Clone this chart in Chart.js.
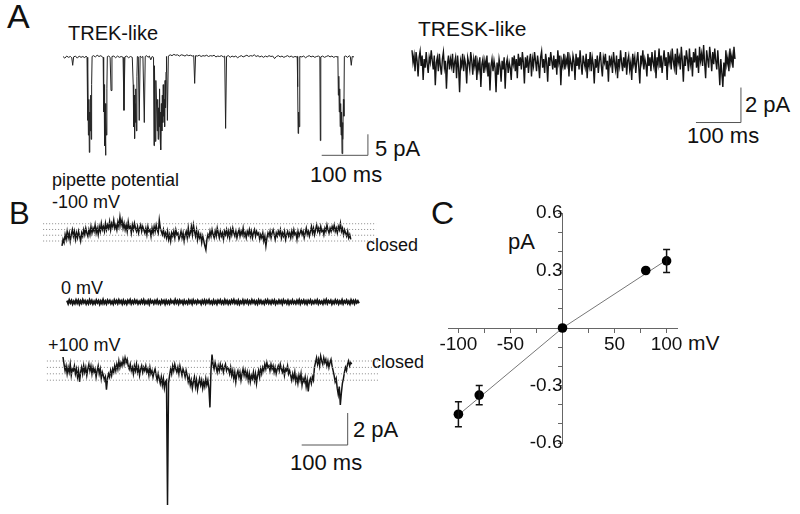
<!DOCTYPE html>
<html>
<head>
<meta charset="utf-8">
<script src="https://cdn.jsdelivr.net/npm/chart.js@4.4.1/dist/chart.umd.min.js"></script>
<style>
  html, body { margin: 0; padding: 0; background: #fff; }
  #page { position: relative; width: 800px; height: 514px; overflow: hidden; font-family: "Liberation Sans", Arial, sans-serif; color: #111; }
  #page canvas { position: absolute; }
  .lbl { position: absolute; white-space: nowrap; line-height: 1; }
</style>
</head>
<body>
<div id="page">
  <div class="lbl" style="left:7px;top:-1px;font-size:34px;">A</div>
  <div class="lbl" style="left:68px;top:23px;font-size:20px;">TREK-like</div>
  <div class="lbl" style="left:418px;top:18px;font-size:21px;">TRESK-like</div>
  <div class="lbl" style="left:375px;top:138px;font-size:22px;">5 pA</div>
  <div class="lbl" style="left:310px;top:164px;font-size:22px;">100 ms</div>
  <div class="lbl" style="left:745px;top:94px;font-size:22px;">2 pA</div>
  <div class="lbl" style="left:687px;top:125px;font-size:22px;">100 ms</div>

  <div class="lbl" style="left:9px;top:198px;font-size:31px;">B</div>
  <div class="lbl" style="left:52px;top:171px;font-size:18px;">pipette potential</div>
  <div class="lbl" style="left:52px;top:193px;font-size:18px;">-100 mV</div>
  <div class="lbl" style="left:366px;top:236px;font-size:18px;">closed</div>
  <div class="lbl" style="left:61px;top:279px;font-size:18px;">0 mV</div>
  <div class="lbl" style="left:48px;top:336px;font-size:18px;">+100 mV</div>
  <div class="lbl" style="left:372px;top:353px;font-size:18px;">closed</div>
  <div class="lbl" style="left:353px;top:419px;font-size:22px;">2 pA</div>
  <div class="lbl" style="left:290px;top:452px;font-size:22px;">100 ms</div>

  <div class="lbl" style="left:431px;top:197px;font-size:32px;">C</div>
  <div class="lbl" style="left:508px;top:231px;font-size:22px;">pA</div>
  <div class="lbl" style="left:688px;top:332px;font-size:21px;">mV</div>

  <canvas id="trek" width="330" height="125" style="left:55px;top:40px;"></canvas>
  <canvas id="tresk" width="390" height="100" style="left:400px;top:35px;"></canvas>
  <canvas id="bMinus" width="350" height="60" style="left:40px;top:200px;"></canvas>
  <canvas id="bZero" width="350" height="25" style="left:40px;top:290px;"></canvas>
  <canvas id="bPlus" width="350" height="170" style="left:40px;top:340px;"></canvas>
  <canvas id="iv" width="380" height="300" style="left:420px;top:180px;"></canvas>
</div>
<script>
// ---- A: TREK-like, [ms, pA] (openings go downward)
const trekTrace = [
  [0,0.2],[4,-0.2],[8,0.3],[12,0],[16,0.2],[19,-0.1],[21,-1.9],[23,0.1],[27,0.3],[31,-0.2],[35,0.3],[39,0],[43,0.2],[47,-0.1],[50,0.3],
  [52,0],[53,-15],[54,-3],[55,-18.5],[56,-10],[57,-22.6],[58,-13],[59,-17.5],[60,-9],[61,-19.5],[62,-6.5],[63,0.2],
  [66,0.4],[70,0.1],[74,0.5],[78,0.2],[82,0.4],[85,0.1],
  [87,0],[88,-13],[89,-6.5],[90,-21],[91,-11],[92,-23.3],[93,-14],[94,-18.5],[95,-7.5],[96,0.2],
  [99,0.3],[102,0],[104,-7.9],[106,0.2],[110,0.3],[114,-0.1],[118,0.3],[122,0],[126,0.2],[130,0],[132,-12.6],[134,0.1],[138,0.3],[142,-0.1],[146,0.2],[150,0],
  [152,-6.5],[153,-16.5],[154,-9],[155,-19.3],[156,-11],[157,-15.5],[158,-7.5],[159,-17.5],[160,-4.5],[161,0.2],[163,0.1],[165,-15],[167,0.3],[170,0],[173,0.2],[176,-15.5],[178,0.2],[181,0.4],[184,0],[187,0.3],[190,-0.6],[193,0.2],
  [196,0],[197,-21],[198,-2],[200,-20],[201,-5.5],[203,-13],[204,-17.5],[205,-10],[206,-19.5],[207,-12],[208,-16.5],[209,-7.5],[210,-18.5],[211,-13],[212,-22],[213,-11],[214,-17.5],[215,-9],[216,-15.5],[217,-6.5],[218,-14],[219,-10],[220,-16.5],[221,-5.5],[222,-12],[223,-3.5],[224,0.2],[226,-15],[228,0.3],
  [232,0.6],[236,0.4],[240,0.7],[244,0.5],[248,0.6],[252,0.3],[256,0.6],[260,0.5],[264,0.3],[268,0.6],[272,0.4],[276,0.5],[280,0.3],[283,0.4],[285,-6.2],[287,0.4],[291,0.3],[295,0.5],[299,0.2],[303,0.4],[307,0.3],[311,0.5],[315,0.2],[319,0.4],[323,0.3],[327,0.5],[331,0.1],[335,0.3],[339,0.2],[343,0.4],[347,0.1],[350,0.3],[352,-16.9],[354,0.2],
  [358,0.4],[362,0],[366,0.3],[370,0.1],[374,0.3],[378,-0.1],[382,0.2],[386,0.4],[390,0.1],[394,0.3],[398,0.5],[402,0.2],[406,0.4],[410,0.3],[414,0.6],[418,0.2],[422,0.4],[426,0.1],[430,0.3],[434,0],[438,0.3],[442,0.1],[446,0.4],[450,0.2],[454,0.3],[458,-0.3],[462,0.2],[466,0.4],[470,0.1],[474,0.3],[478,0],[482,0.2],[486,0.4],[490,0.1],[494,0.3],[498,0],[502,0.2],[506,0.1],
  [507,0.2],[508,-7],[509,-18.1],[510,-13],[511,-16.5],[512,-10],[513,0.2],[517,0.1],[521,0.3],[525,-0.1],[529,0.2],[533,0.4],[537,0.1],[541,0.3],[545,0],[549,0.2],[553,0.3],[556,0.1],[557,-19.8],[558,0.1],[562,0.3],[566,0],[570,0.2],[574,0.4],[578,0.1],[582,0.3],[586,0],[590,0.2],[594,0.1],
  [595,0.2],[596,-9],[597,-4.5],[598,-13],[599,-7.5],[600,-16.5],[601,-11],[602,-18.5],[603,-13],[604,-22.9],[605,-15.5],[606,-19.5],[607,-10],[608,-14],[609,0.2],[612,0.3],[616,0],[620,0.4],[622,0.1],[624,-1.9],[626,0.2],[630,0.1]
];
const trekBar = [[560,-23.3],[660,-23.3],[660,-18.3]]; // 100 ms, 5 pA

// ---- A: TRESK-like, pA sampled every 2.25 ms
const treskDt = 2.25;
const treskTrace = [
  0.1,-0.6,-0.2,-1.1,0.0,-0.5,-1.4,-0.3,0.05,-0.8,-0.2,-1.6,-0.4,-0.9,0.0,-0.7,-1.2,-0.3,-0.6,0.1,
  -0.5,-1.0,-0.2,-1.9,-0.6,-0.3,-1.1,-0.1,-0.8,-1.3,-0.4,0.0,-0.9,-0.5,-2.1,-0.7,-0.2,-1.0,-0.4,-0.8,
  -0.1,-1.2,-0.6,-0.3,-1.5,-0.2,-0.9,-2.3,-0.5,-0.8,-0.1,-1.1,-0.4,-0.7,-1.8,-0.3,-0.6,-1.0,0.0,-0.5,
  -1.3,-0.4,-0.8,-0.2,-1.6,-0.6,-1.0,-0.3,-2.0,-0.7,-0.4,-1.2,-0.5,-0.9,-0.2,-1.4,-0.6,-2.2,-0.8,-0.4,
  -1.1,-0.5,-0.9,-2.3,-0.6,-1.3,-0.4,-0.8,-1.7,-0.5,-1.0,-0.3,-2.1,-0.7,-0.4,-1.2,-0.6,-0.9,-1.6,-0.3,
  -0.7,-0.2,-1.1,-0.4,-1.5,-0.1,-0.8,-0.3,-1.0,0.0,-0.6,-1.8,-0.3,-0.9,-0.2,-1.2,-0.5,-0.1,-1.4,-0.4,
  -0.8,0.0,-0.5,-1.1,-0.2,-0.7,-1.5,-0.3,0.05,-0.9,-0.4,-1.2,-0.1,-0.6,-1.7,-0.3,-0.8,0.0,-0.5,-1.0,
  -0.2,-0.9,-0.4,-1.3,0.1,-0.6,-0.2,-1.9,-0.5,-0.8,-0.1,-1.0,-0.4,-0.7,0.0,-1.4,-0.3,-0.6,-1.1,-0.2,
  -0.5,-1.6,-0.1,-0.8,-0.3,-1.0,0.1,-0.7,-1.3,-0.2,-0.6,-0.9,-0.1,-1.5,-0.4,-0.8,0.0,-1.1,-0.3,-0.7,
  -1.8,-0.4,-0.9,-0.2,-1.2,-0.5,0.0,-0.8,-1.4,-0.3,-0.6,-0.1,-1.0,-0.5,-1.7,-0.2,-0.7,-0.4,-1.2,0.0,
  -0.6,-1.0,-0.2,-1.5,-0.4,-0.8,0.1,-0.6,-1.1,-0.3,-0.9,0.0,-1.3,-0.5,-0.2,-1.0,-0.6,-1.6,-0.1,-0.7,
  -0.3,-1.2,-0.5,0.0,-0.9,-1.8,-0.2,-0.6,0.1,-1.0,-0.4,-0.7,-1.4,-0.1,-0.8,-0.3,-1.1,0.0,-0.6,-0.9,
  0.1,-1.5,-0.3,-0.7,0.2,-0.9,-0.2,-1.2,-0.5,0.1,-0.8,-0.3,-1.6,0.0,-0.6,-0.2,-1.0,0.2,-0.5,-0.9,
  -0.1,-1.3,0.2,-0.6,-0.3,-1.0,0.3,-0.5,-1.7,-0.2,-0.8,0.1,-0.4,-1.1,0.2,-0.7,-0.3,-1.4,0.0,-0.6,
  0.2,-0.9,-0.2,-1.2,0.3,-0.5,-0.1,-0.8,0.4,-0.6,-1.5,0.1,-0.4,-0.9,0.3,-0.3,-1.1,0.0,-0.7,0.2,
  -0.5,-1.0,0.1,-0.8,-1.9,-0.4,-1.2,-2.0,-0.6,-1.4,0.1,-0.7,-0.3,-1.1,0.2,-0.6,-0.2,-0.9,0.3,-0.4
];
const treskBar = [[631,-4.03],[731,-4.03],[731,-2.03]]; // 100 ms, 2 pA

// ---- B: one patch at three pipette potentials, pA sampled every 2.25 ms
const bDt = 2.25;
const minus100Trace = [
  -0.3,0.1,-0.1,0.4,0.1,0.6,0.2,0.5,0.0,0.4,0.7,0.3,0.6,0.1,0.5,0.2,0.6,0.3,0.0,0.5,
  0.3,0.7,0.4,0.8,0.5,0.3,0.7,0.4,0.9,0.5,0.8,0.6,1.0,0.5,0.8,0.4,0.9,0.6,1.1,0.7,
  0.9,0.6,1.1,0.7,1.0,0.8,1.2,0.7,1.1,0.9,1.3,0.8,1.0,0.7,1.2,0.9,1.5,1.0,1.3,0.8,
  1.1,0.7,1.0,0.6,1.2,0.8,0.9,0.5,1.0,0.7,1.1,0.8,0.6,0.9,0.5,0.8,1.0,0.6,0.9,0.7,
  0.5,0.8,0.4,0.9,0.6,0.7,0.3,0.8,0.5,0.9,0.6,1.0,0.7,0.5,1.3,0.8,0.6,0.4,0.7,0.3,
  0.5,0.2,0.6,0.1,0.4,0.0,0.5,0.3,0.6,0.2,0.7,0.4,0.5,0.1,0.3,0.6,0.2,0.5,0.0,0.4,
  0.6,0.2,0.8,0.3,0.5,0.9,0.4,1.0,0.6,0.3,0.7,0.1,0.5,0.2,0.4,-0.1,0.3,0.0,-0.3,-0.55,
  0.1,0.4,0.2,0.6,0.3,0.7,0.4,0.2,0.6,0.3,0.8,0.5,0.2,0.6,0.3,0.5,0.1,0.6,0.4,0.7,
  0.3,0.6,0.2,0.7,0.4,0.8,0.5,0.3,0.6,0.2,0.5,0.7,0.3,0.6,0.4,0.8,0.3,0.5,0.2,0.6,
  0.4,0.7,0.3,0.6,0.2,0.5,0.7,0.3,0.6,0.4,0.5,0.1,0.4,0.2,0.5,0.0,0.3,-0.3,0.2,0.5,
  0.3,0.6,0.2,0.5,0.7,0.4,0.1,0.5,0.3,0.6,0.4,0.7,0.2,0.5,0.3,0.6,0.1,0.4,0.6,0.3,
  0.5,0.2,0.6,0.3,0.7,0.4,0.5,0.1,0.6,0.3,0.5,0.7,0.4,0.6,0.2,0.5,0.8,0.4,0.6,0.3,
  0.6,0.9,0.5,0.8,0.4,0.7,1.0,0.6,0.8,0.5,0.9,0.6,0.7,0.4,0.8,0.6,1.0,0.7,0.5,0.8,
  0.6,0.9,0.7,1.0,0.6,0.8,0.5,0.9,0.7,1.1,0.6,0.8,0.4,0.7,0.5,0.3,0.6,0.2,0.4,0.1
];
const minus100Levels = [0, 0.36, 0.72, 1.08];

const zeroDt = 2.45;
const zeroTrace = [
  0.08,-0.1,0.12,-0.05,0.09,-0.12,0.04,-0.09,0.11,-0.07,0.1,-0.12,0.06,-0.08,0.13,-0.04,0.08,-0.11,0.05,-0.1,
  0.12,-0.06,0.09,-0.11,0.04,-0.1,0.11,-0.05,0.08,-0.13,0.06,-0.08,0.14,-0.09,0.05,-0.11,0.1,-0.04,0.09,-0.1,
  0.04,-0.12,0.11,-0.06,0.08,-0.09,0.12,-0.05,0.07,-0.11,0.1,-0.08,0.05,-0.12,0.09,-0.04,0.13,-0.1,0.06,-0.08,
  0.11,-0.05,0.08,-0.11,0.04,-0.09,0.1,-0.06,0.12,-0.1,0.05,-0.08,0.09,-0.12,0.11,-0.04,0.06,-0.1,0.08,-0.06,
  0.12,-0.09,0.04,-0.11,0.1,-0.05,0.08,-0.12,0.09,-0.08,0.06,-0.1,0.11,-0.04,0.05,-0.09,0.13,-0.06,0.08,-0.11,
  0.1,-0.05,0.06,-0.12,0.09,-0.08,0.04,-0.1,0.11,-0.06,0.08,-0.11,0.12,-0.05,0.06,-0.09,0.1,-0.04,0.05,-0.12,
  0.09,-0.06,0.11,-0.1,0.08,-0.05,0.12,-0.08,0.04,-0.11,0.1,-0.07,0.06,-0.12,0.09,-0.04,0.11,-0.09,0.05,-0.1,
  0.12,-0.06,0.08,-0.11,0.05,-0.09,0.1,-0.05,0.13,-0.08,0.06,-0.1,0.09,-0.12,0.04,-0.07,0.11,-0.1,0.08,-0.05,
  0.1,-0.11,0.06,-0.08,0.12,-0.04,0.09,-0.1,0.05,-0.12,0.11,-0.06,0.08,-0.09,0.04,-0.11,0.1,-0.05,0.12,-0.08,
  0.06,-0.1,0.09,-0.05,0.11,-0.12,0.04,-0.08,0.1,-0.06,0.08,-0.11,0.12,-0.04,0.06,-0.09,0.09,-0.12,0.05,-0.07,
  0.11,-0.08,0.04,-0.1,0.09,-0.06,0.12,-0.11,0.07,-0.05,0.1,-0.09,0.06,-0.12,0.08,-0.04,0.11,-0.1,0.05,-0.08,
  0.09,-0.05,0.12,-0.1,0.06,-0.08,0.04,-0.11,0.1,-0.06,0.13,-0.09,0.07,-0.04,0.09,-0.12,0.05,-0.08,0.11,-0.06,
  0.08,-0.11,0.05,-0.07,0.12,-0.1,0.06,-0.05,0.1,-0.09,0.04,-0.12,0.11,-0.06,0.08,-0.1,0.09,-0.05,0.06,-0.08
];

const plus100Trace = [
  0.25,-0.2,-0.6,-0.3,-0.8,-0.4,-0.7,-0.2,-0.9,-0.5,-0.6,-0.3,-0.8,-0.5,-1.0,-0.6,-1.3,-0.7,-0.4,-0.8,
  -0.3,-0.7,-0.4,-0.9,-0.5,-0.2,-0.6,-0.3,-0.8,-0.4,-0.7,-0.5,-1.0,-0.6,-0.3,-0.8,-0.5,-1.1,-0.7,-0.9,
  -1.2,-1.0,-1.8,-1.1,-0.8,-1.0,-0.6,-0.9,-0.5,-0.7,-0.3,-0.6,-0.2,-0.5,0.0,-0.4,-0.1,-0.3,0.1,-0.2,
  0.2,-0.1,0.1,-0.3,-0.5,-0.2,-0.6,-0.4,-0.8,-0.3,-0.6,-0.2,-0.7,-0.4,-0.9,-0.5,-0.3,-0.7,-0.4,-0.6,
  -0.3,-0.7,-0.5,-0.9,-0.4,-0.8,-0.6,-1.0,-0.7,-0.5,-0.9,-1.2,-0.8,-1.1,-1.4,-1.0,-1.5,-1.1,-1.7,-1.3,
  -1.2,-9.0,-1.4,-0.9,-0.5,-0.8,-0.3,-0.6,-0.2,-0.5,-0.7,-0.4,-0.8,-0.3,-0.6,-0.9,-0.5,-0.7,-1.0,-0.6,
  -0.9,-1.3,-1.0,-1.5,-1.2,-1.7,-1.3,-1.0,-1.6,-1.2,-1.8,-1.4,-1.1,-1.5,-1.2,-1.7,-1.3,-1.6,-1.1,-1.5,
  -1.2,-1.7,-2.9,-0.6,0.4,-0.2,-0.5,-0.1,-0.4,-0.7,-0.3,-0.6,-0.2,-0.5,-0.3,-0.7,-0.4,-0.2,-0.6,-0.4,
  -0.5,-0.8,-0.4,-0.9,-0.6,-1.1,-0.7,-1.3,-0.8,-0.6,-1.0,-0.7,-1.2,-0.8,-0.5,-0.9,-0.6,-1.0,-0.7,-1.2,
  -0.8,-1.3,-0.9,-1.1,-0.7,-1.2,-0.8,-1.4,-0.9,-0.6,-1.0,-0.5,-0.8,-0.4,-0.6,-0.2,-0.5,-0.1,-0.4,-0.3,
  -0.6,-0.2,-0.5,-0.3,-0.7,-0.4,-0.8,-0.5,-0.3,-0.6,-0.2,-0.5,-0.7,-0.4,-0.9,-0.5,-0.6,-0.3,-0.8,-0.6,
  -0.9,-1.2,-0.8,-1.1,-0.7,-1.3,-1.0,-1.4,-0.9,-1.2,-0.8,-1.5,-1.1,-1.3,-1.0,-1.6,-1.2,-1.9,-1.3,-1.1,
  -1.4,-1.0,-1.2,-0.4,-0.1,0.2,-0.2,0.1,-0.3,0.3,0.0,-0.2,0.2,-0.1,0.1,-0.3,0.0,-0.4,-0.1,0.1,
  -0.3,-0.6,-0.9,-1.3,-1.1,-1.7,-2.1,-1.6,-2.75,-2.0,-1.4,-1.1,-0.7,-0.4,-0.6,-0.2,0.0,-0.3,-0.1,-0.2
];
const plus100Levels = [0, -0.4, -0.8, -1.2];
const bBar = [[519,-5.25],[619,-5.25],[619,-3.25]]; // 100 ms, 2 pA

// ---- C: current-voltage relation
const ivVoltage = [-100, -80, 0, 80, 100];
const ivCurrent = [-0.45, -0.35, 0, 0.30, 0.35];
const ivError = [0.065, 0.05, 0, 0, 0.06];
const fitVoltage = [-97, 0, 100];
const fitCurrent = [-0.44, 0, 0.355];
const xTickLabels = [-100, -50, 50, 100];
const yTickLabels = [-0.6, -0.3, 0.3, 0.6];

// helpers
function pairs(list) { return list.map(p => ({ x: p[0], y: p[1] })); }
function sampled(values, dt) { return values.map((v, i) => ({ x: i * dt, y: v })); }
function traceSet(data, width, color) {
  return { data: data, borderColor: color || '#141414', borderWidth: width || 1, pointRadius: 0, tension: 0 };
}
function barSet(bar) {
  return { data: pairs(bar), borderColor: '#555', borderWidth: 1, pointRadius: 0, tension: 0 };
}
function levelSets(levels, x0, x1) {
  return levels.map(l => ({
    data: [{ x: x0, y: l }, { x: x1, y: l }],
    borderColor: '#8a8a8a', borderWidth: 1, borderDash: [1, 2], pointRadius: 0
  }));
}
function traceChart(id, datasets, xr, yr) {
  return new Chart(document.getElementById(id), {
    type: 'line',
    data: { datasets: datasets },
    options: {
      responsive: false,
      animation: false,
      events: [],
      layout: { padding: 0 },
      plugins: { legend: { display: false }, tooltip: { enabled: false } },
      scales: {
        x: { type: 'linear', display: false, min: xr[0], max: xr[1] },
        y: { type: 'linear', display: false, min: yr[0], max: yr[1] }
      }
    }
  });
}

traceChart('trek', [traceSet(pairs(trekTrace), 1, '#222'), barSet(trekBar)], [-17.3, 697], [-25.6, 4.12]);
traceChart('tresk', [traceSet(sampled(treskTrace, treskDt), 1.4), barSet(treskBar)], [-26.7, 840], [-4.743, 0.971]);
traceChart('bMinus', levelSets(minus100Levels, -41, 683).concat([traceSet(sampled(minus100Trace, bDt), 1.5)]), [-47.8, 713], [-1.1875, 2.5625]);
traceChart('bZero', [traceSet(sampled(zeroTrace, zeroDt), 2)], [-58.7, 702], [-0.8125, 0.75]);
traceChart('bPlus', levelSets(plus100Levels, -35, 689).concat([traceSet(sampled(plus100Trace, bDt), 1.5), barSet(bBar)]), [-50, 711], [-9.3125, 1.3125]);

// error bars drawn through the chart's own scales
const errorBars = {
  id: 'errorBars',
  afterDatasetsDraw(chart) {
    const ctx = chart.ctx, x = chart.scales.x, y = chart.scales.y;
    ctx.save();
    ctx.strokeStyle = '#111';
    ctx.lineWidth = 1.5;
    ivVoltage.forEach((v, i) => {
      if (!ivError[i]) return;
      const px = x.getPixelForValue(v);
      const top = y.getPixelForValue(ivCurrent[i] + ivError[i]);
      const bot = y.getPixelForValue(ivCurrent[i] - ivError[i]);
      ctx.beginPath();
      ctx.moveTo(px, top); ctx.lineTo(px, bot);
      ctx.moveTo(px - 3.5, top); ctx.lineTo(px + 3.5, top);
      ctx.moveTo(px - 3.5, bot); ctx.lineTo(px + 3.5, bot);
      ctx.stroke();
    });
    ctx.restore();
  }
};

const tickFont = { family: '"Liberation Sans", Arial, sans-serif', size: 19 };
new Chart(document.getElementById('iv'), {
  type: 'scatter',
  data: {
    datasets: [
      {
        data: ivVoltage.map((v, i) => ({ x: v, y: ivCurrent[i] })),
        backgroundColor: '#000', borderWidth: 0, pointRadius: 4.8
      },
      {
        data: fitVoltage.map((v, i) => ({ x: v, y: fitCurrent[i] })),
        showLine: true, borderColor: '#777', borderWidth: 1, pointRadius: 0
      }
    ]
  },
  options: {
    responsive: false,
    animation: false,
    events: [],
    layout: { padding: { left: 28, right: 123, top: 33, bottom: 37 } },
    plugins: { legend: { display: false }, tooltip: { enabled: false } },
    scales: {
      x: {
        type: 'linear', min: -110, max: 110, position: { y: 0 },
        afterFit: s => { s.height = 0; },
        border: { display: true, color: '#666', width: 1 },
        grid: { drawOnChartArea: false, drawTicks: true, tickLength: 4, color: '#666' },
        ticks: {
          stepSize: 25, includeBounds: false, autoSkip: false, maxRotation: 0, padding: 1,
          color: '#111', font: tickFont,
          callback: v => xTickLabels.includes(v) ? String(v) : ''
        }
      },
      y: {
        type: 'linear', min: -0.6, max: 0.6, position: { x: 0 },
        afterFit: s => { s.width = 0; },
        border: { display: true, color: '#666', width: 1 },
        grid: { drawOnChartArea: false, drawTicks: true, tickLength: 4, color: '#666' },
        ticks: {
          stepSize: 0.1, autoSkip: false, padding: 1,
          color: '#111', font: tickFont,
          callback: v => yTickLabels.some(t => Math.abs(t - v) < 1e-6) ? v.toFixed(1) : ''
        }
      }
    }
  },
  plugins: [errorBars]
});
</script>
</body>
</html>
